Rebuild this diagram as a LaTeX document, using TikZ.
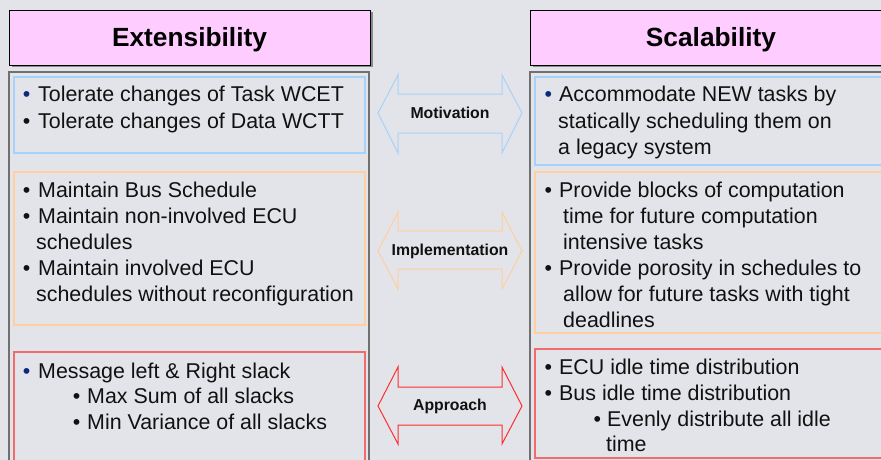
\documentclass[tikz,border=0pt]{standalone}
\usepackage{fontspec}
\setmainfont{Liberation Sans}
\definecolor{bgc}{HTML}{E3E4E9}
\definecolor{pinkc}{HTML}{FFCCFF}
\definecolor{shadowc}{HTML}{8A8A8E}
\definecolor{panelc}{HTML}{707070}
\definecolor{bluec}{HTML}{A6D2FA}
\definecolor{orangec}{HTML}{FFCF9E}
\definecolor{redboxc}{HTML}{F26B6B}
\definecolor{redarrc}{HTML}{FF2D2D}
\definecolor{navyc}{HTML}{0A2A80}
\definecolor{inkc}{HTML}{111111}
\newcommand\tline[4]{\node[txt] (#1) at (#2,#3) {#4};}
\newcommand\bline[4]{\node[bul,text=#4] (#1) at (#2,#3) {\textbullet};}
\begin{document}
\begin{tikzpicture}[x=1pt,y=-1pt,
  txt/.style={anchor=base west,inner sep=0pt,text=inkc,font=\fontsize{21.4}{25}\selectfont},
  bul/.style={anchor=base,inner sep=0pt,font=\fontsize{21.4}{25}\selectfont},
  titlebox/.style={draw=black,line width=0.9pt,fill=pinkc,rectangle,inner sep=0pt,
    text height=18.8pt,text depth=0pt,
    font=\fontsize{26.3}{30}\selectfont\bfseries,text=black},
  panel/.style={draw=panelc,line width=1.8pt,rectangle,inner sep=0pt},
  inbox/.style={rectangle,inner sep=0pt,line width=1.1pt},
  arr/.style={line width=1pt,line join=miter},
  albl/.style={inner sep=0pt,font=\fontsize{15.8}{18}\selectfont\bfseries,text=inkc}]
\useasboundingbox (0,0) rectangle (881,460);
\fill[bgc] (0,0) rectangle (881,460);
\begin{scope}
\clip (0,0) rectangle (881,460);
% title shadows
\fill[shadowc] (11.5,12.5) rectangle (372.5,67.5);
\fill[shadowc] (532.5,12.5) rectangle (895,67.5);
\node[titlebox,minimum width=361pt,minimum height=55pt] (tleft) at (189.5,37.5) {Extensibility};
\node[titlebox,minimum width=362pt,minimum height=55pt] (tright) at (711,37.5) {Scalability};
% panels
\node[panel,minimum width=360pt,minimum height=400pt] (pleft) at (189,272) {};
\node[panel,minimum width=362pt,minimum height=400pt] (pright) at (711,272) {};
% inner boxes
\node[inbox,draw=bluec,minimum width=351pt,minimum height=76pt] (lblue) at (189.5,115) {};
\node[inbox,draw=orangec,minimum width=351pt,minimum height=153pt] (lorange) at (189.5,248.5) {};
\node[inbox,draw=redboxc,line width=1.5pt,minimum width=351pt,minimum height=123pt] (lred) at (189.5,413.5) {};
\node[inbox,draw=bluec,minimum width=362pt,minimum height=88pt] (rblue) at (716,121) {};
\node[inbox,draw=orangec,minimum width=362pt,minimum height=161pt] (rorange) at (716,252.5) {};
\node[inbox,draw=redboxc,line width=1.5pt,minimum width=362pt,minimum height=109pt] (rred) at (716,403.5) {};
% double arrows
\draw[arr,draw=bluec] (378,113) -- (398,75) -- (398,94) -- (502,94) -- (502,75) -- (522,113)
  -- (502,153) -- (502,133) -- (398,133) -- (398,153) -- cycle;
\draw[arr,draw=orangec] (378,251) -- (398,212) -- (398,231) -- (502,231) -- (502,212) -- (522,251)
  -- (502,289) -- (502,269) -- (398,269) -- (398,289) -- cycle;
\draw[arr,draw=redarrc] (378,406) -- (398,367) -- (398,387) -- (502,387) -- (502,367) -- (522,406)
  -- (502,444) -- (502,425) -- (398,425) -- (398,444) -- cycle;
\node[albl] (amot) at (450,113) {Motivation};
\node[albl] (aimp) at (450,251) {Implementation};
\node[albl] (aapp) at (450,406) {Approach};
% left blue
\bline{b1}{26.7}{102}{navyc}\tline{t1}{38}{102}{Tolerate changes of Task WCET}
\bline{b2}{26.7}{128}{inkc}\tline{t2}{38}{128}{Tolerate changes of Data WCTT}
% right blue
\bline{b3}{548.3}{102}{navyc}\tline{t3}{559}{102}{Accommodate NEW tasks by}
\tline{t4}{558}{128}{statically scheduling them on}
\tline{t5}{558}{154}{a legacy system}
% left orange
\bline{b6}{26.7}{197}{inkc}\tline{t6}{38}{197}{Maintain Bus Schedule}
\bline{b7}{26.7}{223}{inkc}\tline{t7}{38}{223}{Maintain non-involved ECU}
\tline{t8}{36}{249}{schedules}
\bline{b9}{26.7}{275}{inkc}\tline{t9}{38}{275}{Maintain involved ECU}
\tline{t10}{36}{301}{schedules without reconfiguration}
% right orange
\bline{b11}{548.3}{197}{inkc}\tline{t11}{559}{197}{Provide blocks of computation}
\tline{t12}{563}{223}{time for future computation}
\tline{t13}{563}{249}{intensive tasks}
\bline{b14}{548.3}{275}{inkc}\tline{t14}{559}{275}{Provide porosity in schedules to}
\tline{t15}{563}{301}{allow for future tasks with tight}
\tline{t16}{563}{327}{deadlines}
% left red
\bline{b17}{26.7}{378}{navyc}\tline{t17}{38}{378}{Message left \& Right slack}
\bline{b18}{76.7}{403}{inkc}\tline{t18}{87}{403}{Max Sum of all slacks}
\bline{b19}{76.7}{429}{inkc}\tline{t19}{87}{429}{Min Variance of all slacks}
% right red
\bline{b20}{548.3}{374}{inkc}\tline{t20}{559}{374}{ECU idle time distribution}
\bline{b21}{548.3}{400}{inkc}\tline{t21}{559}{400}{Bus idle time distribution}
\bline{b22}{597.3}{426}{inkc}\tline{t22}{607}{426}{Evenly distribute all idle}
\tline{t23}{606}{451}{time}
\end{scope}
\end{tikzpicture}
\end{document}
